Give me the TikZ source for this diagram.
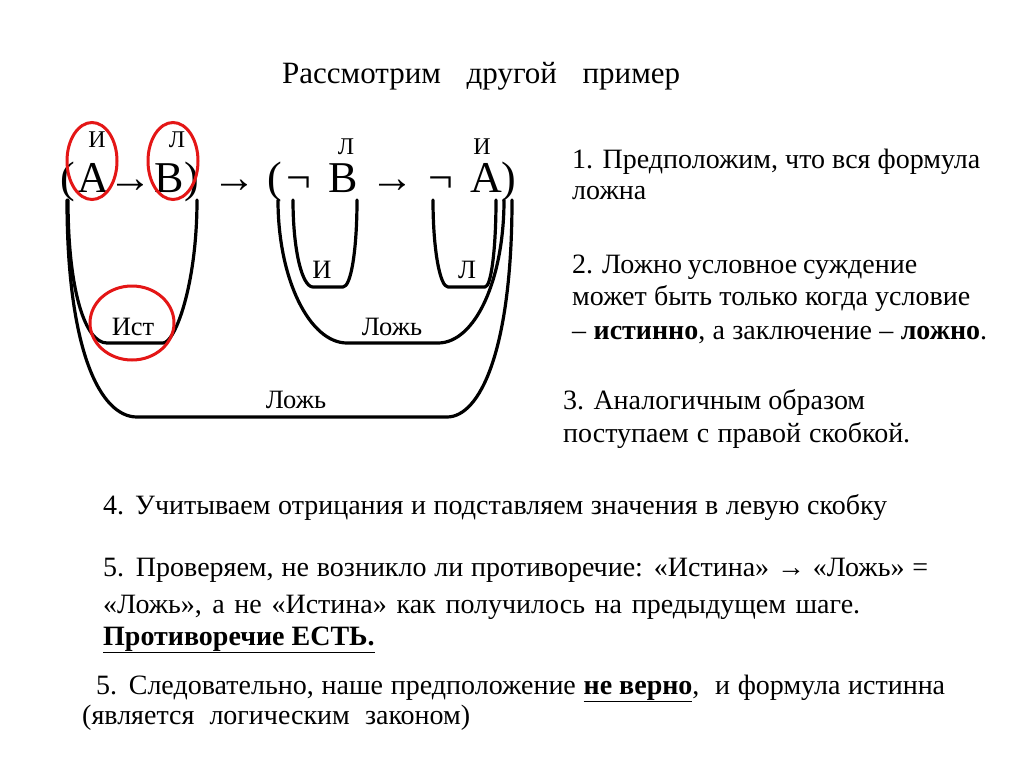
\documentclass[tikz,border=0pt]{standalone}
\usepackage{fontspec}
\setmainfont{Liberation Serif}
\newfontfamily\serifface{Liberation Serif}
\usetikzlibrary{shapes.geometric}
\definecolor{ringred}{RGB}{228,22,22}
\newcommand\myfs[1]{\fontsize{#1}{#1}\selectfont}
\newcommand\jline[2]{\makebox[#1pt][s]{#2}}
\begin{document}
\begin{tikzpicture}[x=1pt,y=-1pt,
  txt/.style={anchor=base west, inner sep=0pt, font=\serifface\myfs{28}},
  lbl/.style={anchor=base, inner sep=0pt, font=\serifface\myfs{26.5}},
  toplbl/.style={anchor=base, inner sep=0pt, font=\serifface\myfs{24}, text height=16pt, text depth=0pt},
  glyph/.style={anchor=base, inner sep=0pt, font=\serifface\myfs{44}, text height=30pt, text depth=0pt},
  ubr/.style={line width=3.2pt, line cap=round, line join=round},
  redring/.style={draw=ringred, line width=3pt, ellipse, inner sep=0pt}]
\fill[white] (0,0) rectangle (1024,768);
\useasboundingbox (0,0) rectangle (1024,768);

% title
\node[txt, font=\serifface\myfs{31}] (title) at (282,83) {\jline{398}{Рассмотрим другой пример}};

% formula
\node[glyph] (p1) at (68,192) {(};
\node[glyph] (a1) at (93,192) {A};
\node[glyph] (ar1) at (130,192) {→};
\node[glyph] (b1) at (169,192) {B};
\node[glyph] (p2) at (192,192) {)};
\node[glyph] (ar2) at (234,192) {→};
\node[glyph] (p3) at (275,192) {(};
\node[glyph] (n1) at (299,192) {¬};
\node[glyph] (b2) at (343,192) {B};
\node[glyph] (ar3) at (392,192) {→};
\node[glyph] (n2) at (441,192) {¬};
\node[glyph] (a2) at (486,192) {A};
\node[glyph] (p4) at (509,192) {)};

% labels above formula
\node[toplbl] (la1) at (97,147) {И};
\node[toplbl] (lb1) at (177,147) {Л};
\node[toplbl] (lb2) at (346,154) {Л};
\node[toplbl] (la2) at (482,154) {И};

% brackets (U shapes)
\draw[ubr] (67,200) .. controls (67,350) and (100,417) .. (137,417) -- (447,417)
  .. controls (480,417) and (512,350) .. (512,200);
\draw[ubr] (68,200) .. controls (68,290) and (85,343) .. (107,343) -- (163,343)
  .. controls (175,343) and (197,285) .. (197,200);
\draw[ubr] (278,200) .. controls (278,280) and (310,343) .. (347,343) -- (438,343)
  .. controls (475,343) and (504,280) .. (504,200);
\draw[ubr] (293,200) .. controls (293,250) and (302,287) .. (313,287) -- (343,287)
  .. controls (351,287) and (357,250) .. (357,200);
\draw[ubr] (433,200) .. controls (433,250) and (440,287) .. (448,287) -- (485,287)
  .. controls (491,287) and (496,250) .. (496,200);

% bracket labels
\node[lbl] (li) at (322,278) {И};
\node[lbl] (ll) at (467,278) {Л};
\node[lbl] (ist) at (133,335) {Ист};
\node[lbl] (lozh1) at (392,335) {Ложь};
\node[lbl] (lozh2) at (296,408) {Ложь};

% red rings
\node[redring, minimum width=50pt, minimum height=77pt] (r1) at (92,161) {};
\node[redring, minimum width=50pt, minimum height=77pt] (r2) at (173,161) {};
\node[redring, minimum width=84pt, minimum height=74pt] (r3) at (132,323) {};

% right column
\node[txt] (t1a) at (572,168) {\jline{408}{1. Предположим, что вся формула}};
\node[txt] (t1b) at (572,199) {ложна};
\node[txt] (t2a) at (572,273) {\jline{345}{2. Ложно условное суждение}};
\node[txt] (t2b) at (572,305) {\jline{398}{может быть только когда условие}};
\node[txt] (t2c) at (572,339) {\jline{415}{– \textbf{истинно}, а заключение – \textbf{ложно}.}};
\node[txt] (t3a) at (563,409) {\jline{302}{3. Аналогичным образом}};
\node[txt] (t3b) at (563,442) {\jline{347}{поступаем с правой скобкой.}};

% lower text
\node[txt] (t4) at (103,514) {\jline{784}{4. Учитываем отрицания и подставляем значения в левую скобку}};
\node[txt] (t5a) at (103,576) {\jline{825}{5. Проверяем, не возникло ли противоречие: «Истина» → «Ложь» =}};
\node[txt] (t5b) at (103,613) {\jline{757}{«Ложь», а не «Истина» как получилось на предыдущем шаге.}};
\node[txt] (t5c) at (103,645) {\underline{\textbf{Противоречие ЕСТЬ.}}};
\node[txt] (t6a) at (96,694) {\jline{849}{5. Следовательно, наше предположение \underline{\textbf{не верно}},\ \ и формула истинна}};
\node[txt] (t6b) at (82,724) {\jline{388}{(является логическим законом)}};
\end{tikzpicture}
\end{document}
